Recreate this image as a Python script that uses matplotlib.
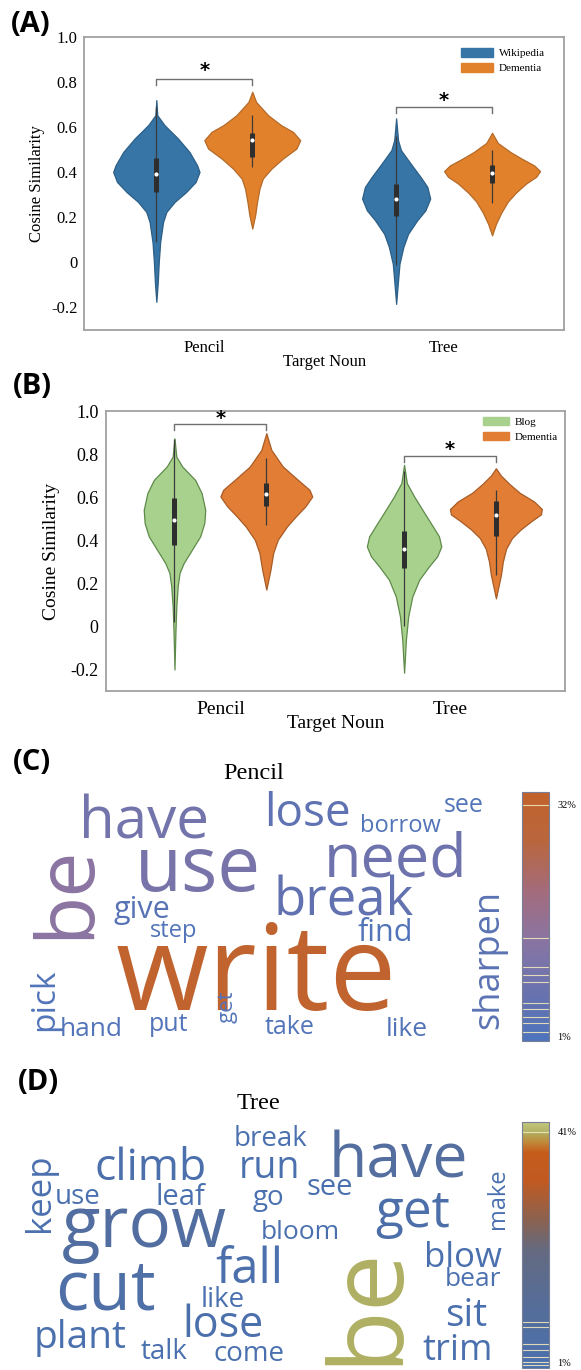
import numpy as np
import matplotlib
matplotlib.use('Agg')
import matplotlib.pyplot as plt
from matplotlib.patches import Patch
from matplotlib.colors import LinearSegmentedColormap, Normalize
from matplotlib.cm import ScalarMappable

W, H = 581, 1370
SERIF = 'Liberation Serif'
SANS = 'Open Sans'

nouns = ['Pencil', 'Tree']
yticks = [-0.2, 0, 0.2, 0.4, 0.6, 0.8, 1.0]
ytick_labels = ['-0.2', '0', '0.2', '0.4', '0.6', '0.8', '1.0']

# ---- (A) Wikipedia vs Dementia: density profiles
# (cosine similarity grid, relative density 0-100)
a_wiki_pencil_y = [0.72, 0.653, 0.609, 0.55, 0.49, 0.431, 0.401, 0.357, 0.312, 0.268, 0.224, 0.179, 0.09, 0.0, -0.088, -0.175]
a_wiki_pencil_d = [0, 2, 17, 45, 69, 85, 90, 82, 62, 38, 21, 14, 8, 5, 3, 0]
a_dem_pencil_y = [0.757, 0.712, 0.653, 0.609, 0.579, 0.542, 0.505, 0.461, 0.416, 0.372, 0.327, 0.268, 0.209, 0.15]
a_dem_pencil_d = [0, 8, 33, 60, 85, 100, 92, 64, 40, 22, 15, 10, 6, 0]
a_wiki_tree_y = [0.639, 0.542, 0.498, 0.439, 0.379, 0.335, 0.283, 0.231, 0.187, 0.127, 0.068, -0.006, -0.08, -0.184]
a_wiki_tree_d = [0, 4, 10, 30, 51, 65, 71, 61, 44, 25, 15, 7, 4, 0]
a_dem_tree_y = [0.575, 0.53, 0.49, 0.46, 0.43, 0.405, 0.38, 0.35, 0.31, 0.27, 0.22, 0.17, 0.12]
a_dem_tree_d = [0, 12, 38, 62, 88, 100, 92, 71, 50, 33, 19, 8, 0]
# box stats: q1, median, q3, whisker low, whisker high
a_boxes = [[0.311, 0.391, 0.462, 0.09, 0.69],
           [0.467, 0.542, 0.573, 0.422, 0.653],
           [0.204, 0.280, 0.347, -0.01, 0.56],
           [0.351, 0.397, 0.431, 0.262, 0.498]]

# ---- (B) Blog vs Dementia
b_blog_pencil_y = [0.873, 0.788, 0.742, 0.68, 0.619, 0.541, 0.48, 0.418, 0.356, 0.294, 0.248, 0.186, 0.093, -0.03, -0.2]
b_blog_pencil_d = [0, 4, 17, 45, 59, 67, 65, 56, 38, 20, 11, 7, 4, 2, 0]
b_dem_pencil_y = [0.897, 0.819, 0.742, 0.68, 0.634, 0.603, 0.557, 0.51, 0.464, 0.402, 0.341, 0.263, 0.171]
b_dem_pencil_d = [0, 11, 36, 69, 94, 100, 85, 64, 45, 25, 15, 9, 0]
b_blog_tree_y = [0.75, 0.665, 0.603, 0.541, 0.48, 0.418, 0.371, 0.325, 0.278, 0.217, 0.139, 0.047, -0.061, -0.215]
b_blog_tree_d = [0, 6, 22, 40, 58, 76, 81, 72, 54, 33, 18, 9, 4, 0]
b_dem_tree_y = [0.734, 0.70, 0.66, 0.62, 0.58, 0.545, 0.52, 0.49, 0.45, 0.41, 0.36, 0.30, 0.24, 0.18, 0.13]
b_dem_tree_d = [0, 11, 30, 52, 83, 100, 98, 78, 54, 35, 22, 15, 11, 5, 0]
b_boxes = [[0.379, 0.492, 0.595, 0.02, 0.87],
           [0.557, 0.614, 0.665, 0.472, 0.781],
           [0.271, 0.359, 0.445, 0.0, 0.72],
           [0.418, 0.515, 0.580, 0.24, 0.634]]

# ---- (C) / (D) verb frequencies (%)
c_words = ['write', 'be', 'use', 'have', 'need', 'break', 'lose', 'sharpen', 'give', 'find',
           'pick', 'borrow', 'see', 'step', 'hand', 'put', 'get', 'take', 'like']
c_freq = [32, 14.1, 10.3, 9.2, 8.2, 5.4, 4.6, 3.5, 2.7, 1.5, 1.5, 1.5, 1.5, 1.5, 1.5, 1.5, 1.5, 1.5, 1.5]
d_words = ['be', 'have', 'grow', 'cut', 'get', 'climb', 'fall', 'lose', 'run', 'keep', 'plant', 'sit',
           'blow', 'trim', 'break', 'use', 'leaf', 'go', 'see', 'bloom', 'make', 'bear', 'like', 'talk', 'come']
d_freq = [41, 7.9, 7.1, 4.2, 3.1, 1.9, 1.9, 1.9, 1.0, 1.0, 1.0, 1.0, 1.0, 1.0,
          0.5, 0.5, 0.5, 0.5, 0.5, 0.5, 0.5, 0.5, 0.5, 0.5, 0.5]

# word layout: x centre, baseline y (pixels), font size, rotation
c_layout = [(256.5, 1010, 86, 0), (88, 892, 58, 90), (198, 890.7, 55, 0), (144, 838.3, 42, 0),
            (396, 876, 44, 0), (344, 915, 38, 0), (307, 826, 33, 0), (498, 959, 26, 90),
            (141.7, 918.3, 22, 0), (385, 940.7, 22, 0), (53, 1000, 24, 90), (400, 831.7, 17, 0),
            (464, 811.7, 18, 0), (174, 936.7, 17, 0), (91, 1036, 19, 0), (168.5, 1031, 18, 0),
            (233, 1007, 16, 90), (290, 1034, 18, 0), (407, 1036, 19, 0)]
d_layout = [(395, 1305, 74, 90), (398, 1178, 45, 0), (144, 1247, 51, 0), (105, 1310, 50, 0),
            (413, 1227, 37, 0), (151, 1180, 32, 0), (249, 1283, 35, 0), (223, 1337, 31, 0),
            (269.5, 1178, 27, 0), (49, 1193, 25, 90), (80, 1348, 28, 0), (466, 1326, 28, 0),
            (463, 1267, 25, 0), (458, 1360, 26, 0), (271, 1146, 20, 0), (78, 1204, 20, 0),
            (180, 1205, 21, 0), (268, 1205, 20, 0), (330, 1195, 21, 0), (300, 1239, 19, 0),
            (504, 1199, 17, 90), (473, 1286, 19, 0), (223, 1307, 20, 0), (164, 1359, 20, 0),
            (249, 1361, 20, 0)]

cmap_c = LinearSegmentedColormap.from_list('pencil', [
    (0.0, '#4e74bc'), (0.15, '#6272b0'), (0.3, '#7874aa'), (0.42, '#8c74a0'),
    (0.6, '#a36c7c'), (0.8, '#b9663e'), (1.0, '#c2622a')])
cmap_d = LinearSegmentedColormap.from_list('tree', [
    (0.0, '#4a70b0'), (0.19, '#536e9e'), (0.3, '#586c94'), (0.48, '#646a80'),
    (0.6, '#8a6250'), (0.76, '#c05a22'), (0.88, '#c55c1a'), (0.92, '#c08a3a'),
    (0.96, '#b0b062'), (1.0, '#c2c67e')])
norm_c = Normalize(0.33, 33.7)
norm_d = Normalize(0.0, 42.7)

fig = plt.figure(figsize=(W / 100, H / 100), dpi=100)


def px_axes(x0, y0, x1, y1):
    return fig.add_axes([x0 / W, 1 - y1 / H, (x1 - x0) / W, (y1 - y0) / H])


def violin_panel(ax, profiles, boxes, fills, edges, names, bracket_y, star_y, leg_anchor,
                 fs_x, fs_y, fs_leg, handle_len, labelpad):
    positions = [-0.2, 0.2, 0.8, 1.2]
    stats, widths = [], []
    for (ys, ds), b in zip(profiles, boxes):
        stats.append(dict(coords=np.array(ys, float), vals=np.array(ds, float),
                          mean=b[1], median=b[1], min=min(ys), max=max(ys)))
        widths.append(0.4 * max(ds) / 100)
    parts = ax.violin(stats, positions=positions, widths=widths, showextrema=False)
    for body, fc, ec in zip(parts['bodies'], fills * 2, edges * 2):
        body.set_facecolor(fc)
        body.set_edgecolor(ec)
        body.set_alpha(1)
        body.set_linewidth(0.9)
        body.set_zorder(2)
    for p, (q1, med, q3, lo, hi) in zip(positions, boxes):
        ax.vlines(p, lo, hi, color='#3a3a3a', lw=0.9, zorder=3)
        ax.vlines(p, q1, q3, color='#2e2e2e', lw=3.6, zorder=3)
        ax.scatter([p], [med], s=9, color='white', zorder=4, linewidths=0)
    for i in range(2):
        x0, x1 = i - 0.2, i + 0.2
        yb = bracket_y[i]
        ax.plot([x0, x0, x1, x1], [yb - 0.028, yb, yb, yb - 0.028], color='#707070', lw=1.0)
        ax.text(i, star_y[i], '*', ha='center', va='center', fontsize=14,
                fontweight='bold', family='DejaVu Sans')
    ax.set_xlim(-0.5, 1.5)
    ax.set_ylim(-0.3, 1.0)
    ax.set_xticks([0, 1], nouns)
    ax.set_yticks(yticks, ytick_labels)
    for lab in ax.get_xticklabels():
        lab.set_fontsize(fs_x)
        lab.set_family(SERIF)
    for lab in ax.get_yticklabels():
        lab.set_fontsize(fs_y)
        lab.set_family(SERIF)
    ax.tick_params(length=0)
    ax.tick_params(axis='x', pad=7)
    ax.tick_params(axis='y', pad=5)
    ax.set_xlabel('Target Noun', fontsize=fs_x, family=SERIF, labelpad=labelpad)
    ax.set_ylabel('Cosine Similarity', fontsize=fs_x, family=SERIF)
    for s in ax.spines.values():
        s.set_color('#a0a0a0')
        s.set_linewidth(1.3)
    handles = [Patch(facecolor=c, edgecolor=c) for c in fills]
    ax.legend(handles, names, loc='upper left', bbox_to_anchor=leg_anchor, frameon=False,
              prop={'family': SERIF, 'size': fs_leg}, handlelength=handle_len, handleheight=0.8,
              handletextpad=0.5, labelspacing=0.45, borderpad=0, borderaxespad=0)


ax_a = px_axes(84.4, 37, 564, 330)
violin_panel(ax_a,
             [(a_wiki_pencil_y, a_wiki_pencil_d), (a_dem_pencil_y, a_dem_pencil_d),
              (a_wiki_tree_y, a_wiki_tree_d), (a_dem_tree_y, a_dem_tree_d)],
             a_boxes, ['#3675a6', '#e1812c'], ['#2d5f86', '#b56a28'],
             ['Wikipedia', 'Dementia'], [0.815, 0.69], [0.853, 0.72], (0.785, 0.962),
             12, 12, 8, 2.9, -1)
ax_a.yaxis.set_label_coords(-(84.4 - 45) / 479.6, 0.5)

ax_b = px_axes(105.6, 411, 564.8, 691)
violin_panel(ax_b,
             [(b_blog_pencil_y, b_blog_pencil_d), (b_dem_pencil_y, b_dem_pencil_d),
              (b_blog_tree_y, b_blog_tree_d), (b_dem_tree_y, b_dem_tree_d)],
             b_boxes, ['#a9d18e', '#e27d36'], ['#5e8a4a', '#a85c26'],
             ['Blog', 'Dementia'], [0.94, 0.793], [0.966, 0.823], (0.822, 0.979),
             14, 13, 8, 2.35, -2)
ax_b.yaxis.set_label_coords(-(105.6 - 60) / 459.2, 0.5)

# ---- word clouds on a pixel overlay
wc = fig.add_axes([0, 0, 1, 1])
wc.set_xlim(0, W)
wc.set_ylim(H, 0)
wc.axis('off')

for lab, x, y in [('(A)', 31, 24), ('(B)', 32, 386), ('(C)', 32, 762), ('(D)', 38, 1083)]:
    wc.text(x, y, lab, fontsize=21, fontweight='bold', family=SANS, ha='center', va='center')

wc.text(254, 779, 'Pencil', fontsize=17.5, family=SERIF, ha='center', va='baseline')
wc.text(258, 1109, 'Tree', fontsize=17.5, family=SERIF, ha='center', va='baseline')


def word_cloud(words, freqs, layout, cmap, norm):
    for w, f, (x, y, size, rot) in zip(words, freqs, layout):
        wc.text(x, y, w, fontsize=size, rotation=rot, rotation_mode='anchor',
                ha='center', va='baseline', color=cmap(norm(f)), family=SANS)


word_cloud(c_words, c_freq, c_layout, cmap_c, norm_c)
word_cloud(d_words, d_freq, d_layout, cmap_d, norm_d)


def freq_bar(box, cmap, norm, freqs, ticks, labels):
    cax = px_axes(*box)
    cb = fig.colorbar(ScalarMappable(norm=norm, cmap=cmap), cax=cax, ticks=ticks)
    cb.ax.set_yticklabels(labels)
    for lab in cb.ax.get_yticklabels():
        lab.set_fontsize(7.5)
        lab.set_family(SERIF)
    cb.ax.tick_params(length=0, pad=6)
    for f in sorted(set(freqs)):
        cb.ax.axhline(f, color='#efe6bc', lw=0.8, alpha=0.9)
    cb.outline.set_edgecolor('#7a7f98')
    cb.outline.set_linewidth(0.8)


freq_bar((522, 792, 549, 1041), cmap_c, norm_c, c_freq, [32, 1], ['32%', '1%'])
freq_bar((522, 1122, 549, 1368), cmap_d, norm_d, d_freq, [41, 1], ['41%', '1%'])

fig.savefig('out.png', dpi=100)
